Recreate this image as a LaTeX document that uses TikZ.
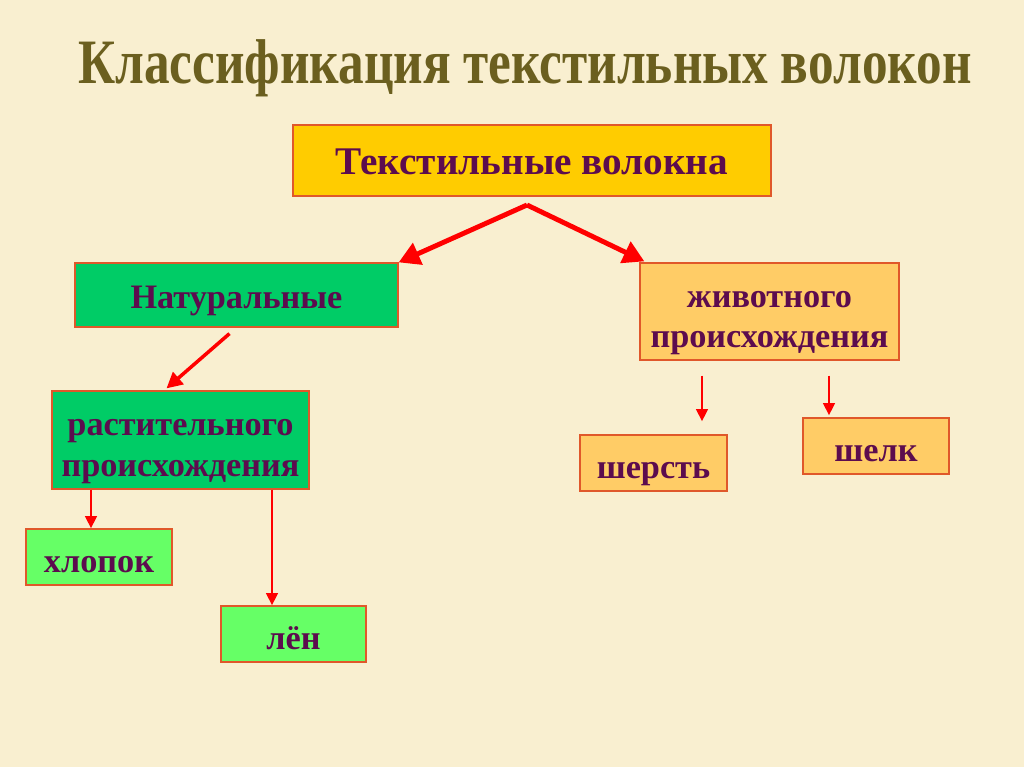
\documentclass[tikz,border=0pt]{standalone}
\usepackage{fontspec}
\setmainfont{Liberation Serif}
\usepackage{graphicx}
\usepackage{xcolor}
\definecolor{paperBack} {HTML}{F9EFD0}
\definecolor{rootFill}  {HTML}{FFCC00}
\definecolor{natFill}   {HTML}{00CC66}
\definecolor{animFill}  {HTML}{FFCC66}
\definecolor{leafFill}  {HTML}{66FF66}
\definecolor{boxLine}   {HTML}{E0582A}
\definecolor{boxText}   {HTML}{5C0C4E}
\definecolor{titleText} {HTML}{6B5F1F}
\definecolor{arrowRed}  {HTML}{FF0000}
\usetikzlibrary{arrows.meta, positioning, calc}
% text of a box, lowered a little, box size kept
\newcommand{\boxtext}[2][-4.5pt]{\raisebox{#1}[\height][\depth]{\begin{tabular}{@{}c@{}}#2\end{tabular}}}

\begin{document}
\begin{tikzpicture}[x=0.02cm, y=-0.02cm,
    box/.style={draw=boxLine, line width=0.7pt, inner sep=0pt,
                text=boxText, font=\fontsize{19.5}{23}\selectfont\bfseries},
    bigarrow/.style={draw=arrowRed, line width=2.8pt,
                -{Triangle[length=12pt, width=13pt]}},
    midarrow/.style={draw=arrowRed, line width=2pt,
                -{Triangle[length=9pt, width=9pt]}},
    smallarrow/.style={draw=arrowRed, line width=1.6pt,
                -{Triangle[length=7pt, width=6.5pt]}}]

    % --- background and title ---
    \fill[paperBack] (0,0) rectangle (1024,767);
    \useasboundingbox (0,0) rectangle (1024,767);
    \node[text=titleText, font=\fontsize{36}{42}\selectfont\bfseries] (title) at (525,68)
        {\scalebox{0.81}[1]{Классификация текстильных волокон}};

    % --- top level ---
    \node[box, fill=rootFill, minimum width=478*0.02cm, minimum height=71*0.02cm,
          font=\fontsize{22.3}{26}\selectfont\bfseries] (root) at (532,160.5) {\boxtext[-2.5pt]{Текстильные волокна}};
    \coordinate (split) at (527,205);

    % --- second level ---
    \node[box, fill=natFill, minimum width=323*0.02cm, minimum height=64*0.02cm] (nat) at (236.5,295) {\boxtext[-3pt]{Натуральные}};
    \node[box, fill=animFill, minimum width=259*0.02cm, minimum height=97*0.02cm] (anim) at (769.5,311.5)
        {\boxtext{животного\\происхождения}};
    \node[box, fill=natFill, minimum width=257*0.02cm, minimum height=98*0.02cm] (plant) at (180.5,440)
        {\boxtext{растительного\\происхождения}};

    % --- fibres ---
    \node[box, fill=leafFill, minimum width=146*0.02cm, minimum height=56*0.02cm] (cotton) at (99,557) {\boxtext{хлопок}};
    \node[box, fill=leafFill, minimum width=145*0.02cm, minimum height=56*0.02cm] (flax) at (293.5,634) {\boxtext{лён}};
    \node[box, fill=animFill, minimum width=147*0.02cm, minimum height=56*0.02cm] (wool) at (653.5,463) {\boxtext{шерсть}};
    \node[box, fill=animFill, minimum width=146*0.02cm, minimum height=56*0.02cm] (silk) at (876,446) {\boxtext{шелк}};

    % --- connectors ---
    \draw[bigarrow] (split) -- (nat.north east);
    \draw[bigarrow] (split) -- ($(anim.north west)+(5,-1)$);
    \draw[midarrow] ($(nat.south)+(-7,6)$) -- ($(plant.north)+(-14,-2)$);
    \coordinate (cottonTop) at ($(cotton.north)+(-8,0)$);
    \coordinate (flaxTop) at ($(flax.north)+(-21.5,0)$);
    \draw[smallarrow] (cottonTop |- plant.south) -- (cottonTop);
    \draw[smallarrow] (flaxTop |- plant.south) -- (flaxTop);
    \draw[smallarrow] ($(anim.south -| wool.north)+(48.5,15)$) -- ($(wool.north)+(48.5,-13)$);
    \draw[smallarrow] ($(anim.south -| silk.north)+(-47,15)$) -- ($(silk.north)+(-47,-2)$);
\end{tikzpicture}
\end{document}
